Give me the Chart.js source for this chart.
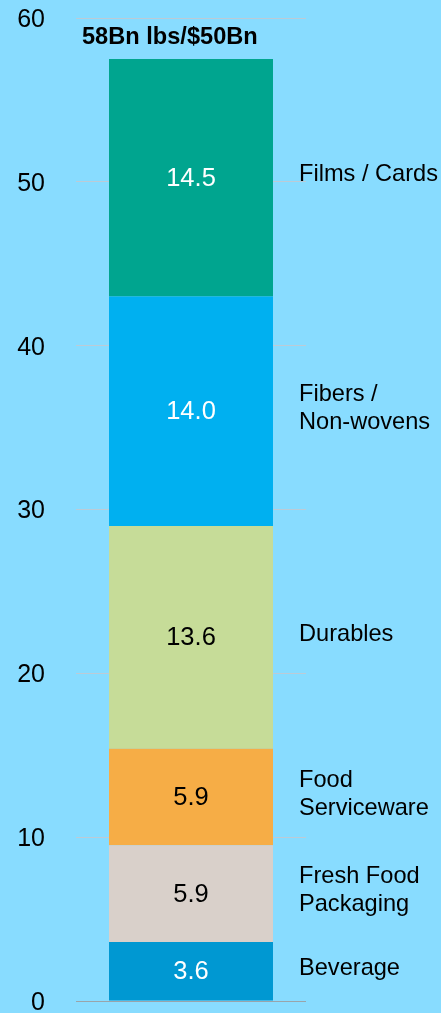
<!DOCTYPE html>
<html>
<head>
<meta charset="utf-8">
<script src="https://cdn.jsdelivr.net/npm/chart.js@4"></script>
<style>
  html, body { margin: 0; padding: 0; background: #88dcff; }
  canvas { display: block; }
</style>
</head>
<body>
<canvas id="chart" width="441" height="1013"></canvas>
<script>
// segments, bottom to top
const segmentNames = [
  ["Beverage"],
  ["Fresh Food", "Packaging"],
  ["Food", "Serviceware"],
  ["Durables"],
  ["Fibers /", "Non-wovens"],
  ["Films / Cards"]
];
const segmentValues = [3.6, 5.9, 5.9, 13.6, 14.0, 14.5];
const segmentColors = ["#0098d2", "#d9d0ca", "#f6ad46", "#c6dc98", "#00b0f0", "#00a58f"];
const valueTextColors = ["#ffffff", "#000000", "#000000", "#000000", "#ffffff", "#ffffff"];
const barTitle = "58Bn lbs/$50Bn";
const yMax = 60;
const yStep = 10;

const FONT = "'Liberation Sans', Arial, sans-serif";

const segmentLabels = {
  id: "segmentLabels",
  afterDatasetsDraw(chart) {
    const ctx = chart.ctx;
    ctx.save();
    chart.data.datasets.forEach((ds, i) => {
      const bar = chart.getDatasetMeta(i).data[0];
      const cy = (bar.y + bar.base) / 2;
      // value inside the bar
      ctx.font = "25.5px " + FONT;
      ctx.fillStyle = valueTextColors[i];
      ctx.textAlign = "center";
      ctx.textBaseline = "middle";
      ctx.fillText(ds.data[0].toFixed(1), bar.x, cy + 1);
      // name on the right
      const lines = segmentNames[i];
      const lh = 28;
      ctx.font = "23.6px " + FONT;
      ctx.fillStyle = "#000000";
      ctx.textAlign = "left";
      const x = bar.x + bar.width / 2 + 26;
      lines.forEach((line, k) => {
        ctx.fillText(line, x, cy - 3 + (k - (lines.length - 1) / 2) * lh);
      });
    });
    // title above the bar
    const a = chart.chartArea;
    ctx.font = "bold 23.6px " + FONT;
    ctx.fillStyle = "#000000";
    ctx.textAlign = "left";
    ctx.fillText(barTitle, a.left + 6, a.top + 19);
    ctx.restore();
  }
};

new Chart(document.getElementById("chart").getContext("2d"), {
  type: "bar",
  data: {
    labels: ["Total"],
    datasets: segmentValues.map((v, i) => ({
      label: segmentNames[i].join(" "),
      data: [v],
      backgroundColor: segmentColors[i],
      borderWidth: 0,
      barPercentage: 1,
      categoryPercentage: 0.713
    }))
  },
  options: {
    responsive: false,
    devicePixelRatio: 1,
    animation: false,
    layout: { padding: { top: 18, bottom: 12, right: 135, left: 0 } },
    plugins: {
      legend: { display: false },
      tooltip: { enabled: false }
    },
    scales: {
      x: { stacked: true, display: false },
      y: {
        stacked: true,
        min: 0,
        max: yMax,
        border: { display: false },
        grid: {
          drawTicks: false,
          color: c => c.tick.value === 0 ? "#9aa4aa" : "#bccbd6",
          lineWidth: 1
        },
        ticks: {
          stepSize: yStep,
          padding: 31,
          labelOffset: 2,
          color: "#000000",
          font: { family: FONT, size: 25 }
        },
        afterFit: s => {
          s.width = 76;
          s.paddingTop = 0;
          s.paddingBottom = 0;
        }
      }
    }
  },
  plugins: [segmentLabels]
});
</script>
</body>
</html>
